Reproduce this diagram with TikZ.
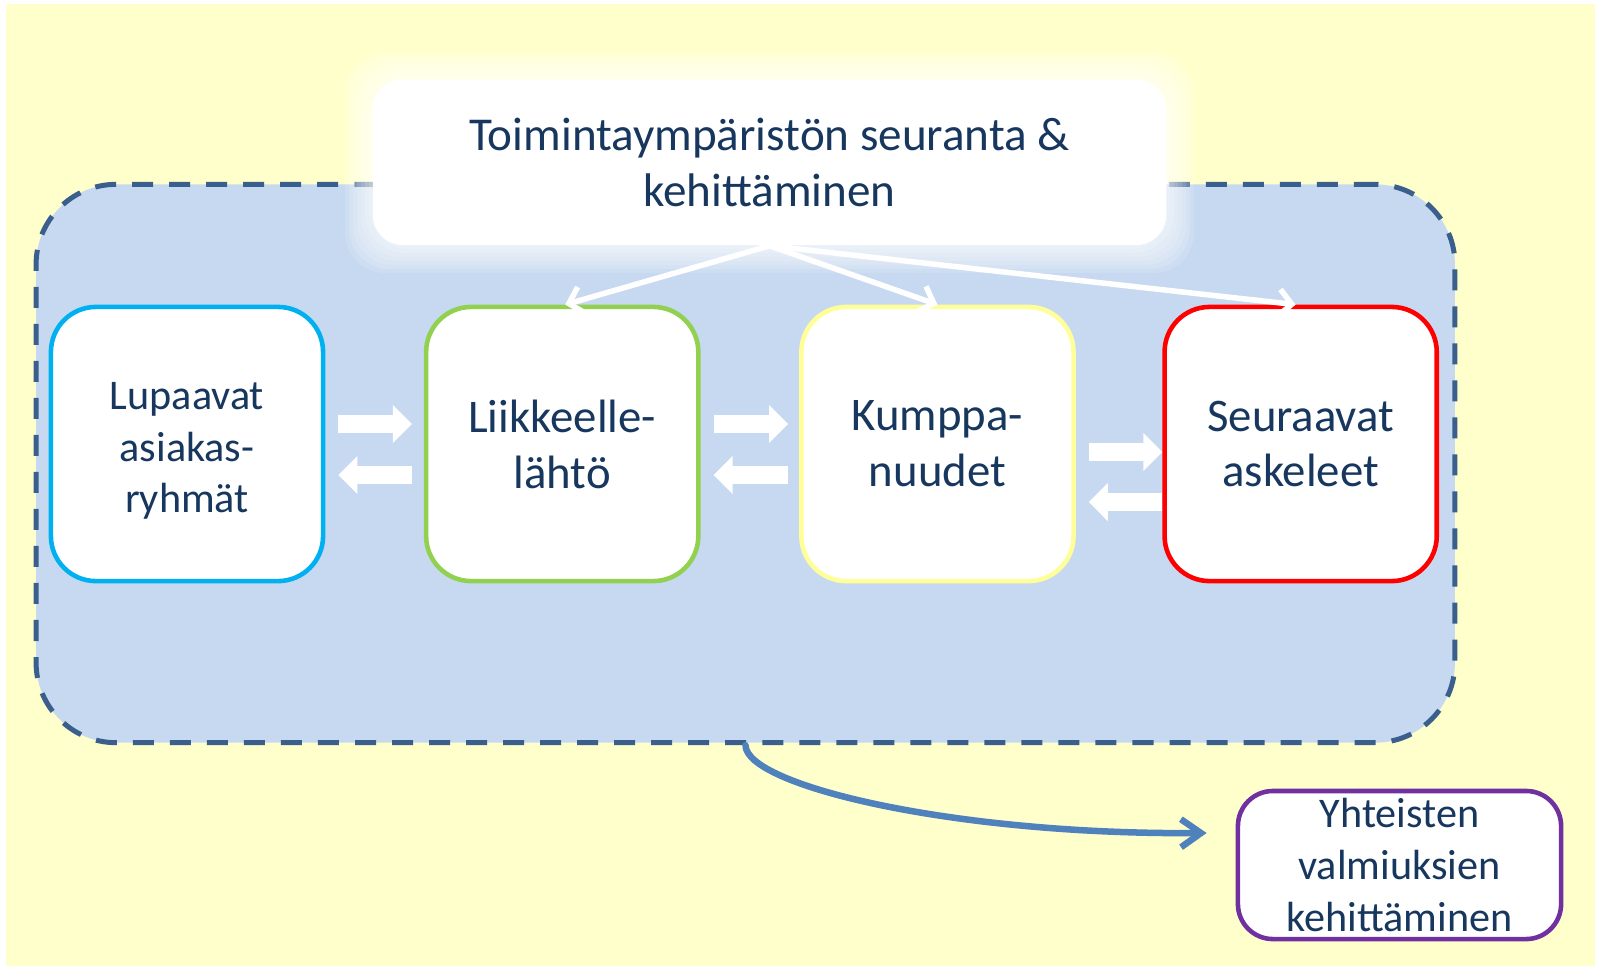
\documentclass[tikz,border=0pt]{standalone}
\usepackage{fontspec}
\setmainfont{Carlito}
\usepackage{tikz}
\usetikzlibrary{positioning,arrows.meta}
\definecolor{bgyellow}{HTML}{FFFFCC}
\definecolor{framefill}{HTML}{C6D9F1}
\definecolor{framedraw}{HTML}{3A5F8C}
\definecolor{txtblue}{HTML}{17375E}
\definecolor{boxblue}{HTML}{00B0F0}
\definecolor{boxgreen}{HTML}{92D050}
\definecolor{boxyellow}{HTML}{FFFF99}
\definecolor{boxred}{HTML}{FF0000}
\definecolor{boxpurple}{HTML}{7030A0}
\definecolor{curveblue}{HTML}{4F81BD}

\tikzset{
  stage/.style={rectangle, rounded corners=0.45cm, draw, line width=1.3pt, fill=white,
    minimum width=2.72cm, minimum height=2.74cm, text=txtblue, align=center,
    font=\fontsize{13.3}{15.9}\selectfont},
  blockarrow/.style={white, line width=0.18cm, -{Triangle[length=0.19cm,width=0.37cm]}},
  thinarrow/.style={white, line width=0.055cm, line cap=round, -{Straight Barb[length=0.13cm,width=0.27cm]}},
}

\begin{document}
\begin{tikzpicture}[x=0.01cm, y=-0.01cm, node distance=3.75cm]
    \useasboundingbox (0,0) rectangle (1601,969);
    \fill[white] (0,0) rectangle (1601,969);
    \fill[bgyellow] (6,4) rectangle (1595,966);

    \node (frame) [rectangle, draw=framedraw, fill=framefill, line width=0.05cm,
      dash pattern=on 0.21cm off 0.16cm, rounded corners=0.8cm,
      minimum width=14.18cm, minimum height=5.58cm] at (745.5,463.5) {};

    \node (lupa) [stage, draw=boxblue, font=\fontsize{12}{14.6}\selectfont] at (187,444) {\\[-0.1cm]Lupaavat\\asiakas-\\ryhmät};
    \node (liike) [stage, draw=boxgreen, right of=lupa] {Liikkeelle-\\lähtö};
    \node (kump) [stage, draw=boxyellow, right of=liike] {Kumppa-\\nuudet};
    \node (seur) [stage, draw=boxred, right of=kump, xshift=-0.12cm] {Seuraavat\\askeleet};

    % glow round the top box
    \foreach \g in {4,8,...,28}
      \fill[white, opacity=0.14, rounded corners=0.4cm] (373-\g,80-\g) rectangle (1166+\g,245+\g);
    \node (watch) [rectangle, rounded corners=0.3cm, fill=white, minimum width=7.93cm,
      minimum height=1.65cm, text=txtblue, align=center,
      font=\fontsize{13.4}{15.9}\selectfont] at (769.5,162.5) {Toimintaympäristön seuranta \&\\kehittäminen};

    \node (yht) [rectangle, rounded corners=0.35cm, draw=boxpurple, line width=1.3pt, fill=white,
      minimum width=3.23cm, minimum height=1.48cm, inner sep=0pt, text=txtblue, align=center,
      font=\fontsize{12}{14.8}\selectfont] at (1399.5,865) {Yhteisten\\valmiuksien\\kehittäminen};
    \coordinate (yhtin) at ([xshift=-0.29cm, yshift=0.32cm]yht.west);

    \draw [thinarrow] (watch.south) -- ([xshift=0.03cm]liike.north);
    \draw [thinarrow] (watch.south) -- (kump.north);
    \draw [thinarrow] (watch.south) -- ([xshift=-0.05cm]seur.north);

    \draw [blockarrow, shorten <=0.13cm, shorten >=0.12cm] ([yshift=0.2cm]lupa.east) -- ([yshift=0.2cm]liike.west);
    \draw [blockarrow, shorten <=0.12cm, shorten >=0.13cm] ([yshift=-0.31cm]liike.west) -- ([yshift=-0.31cm]lupa.east);
    \draw [blockarrow, shorten <=0.13cm, shorten >=0.11cm] ([yshift=0.2cm]liike.east) -- ([yshift=0.2cm]kump.west);
    \draw [blockarrow, shorten <=0.11cm, shorten >=0.13cm] ([yshift=-0.31cm]kump.west) -- ([yshift=-0.31cm]liike.east);
    \draw [blockarrow, shorten <=0.13cm] ([yshift=-0.08cm]kump.east) -- ([yshift=-0.08cm]seur.west);
    \draw [blockarrow, shorten >=0.13cm] ([yshift=-0.58cm]seur.west) -- ([yshift=-0.58cm]kump.east);

    \draw [curveblue, line width=0.065cm, line cap=round, -{Straight Barb[length=0.2cm,width=0.28cm]}]
      (frame.south) .. controls +(0,40) and +(-255,2) .. (yhtin);
\end{tikzpicture}
\end{document}
